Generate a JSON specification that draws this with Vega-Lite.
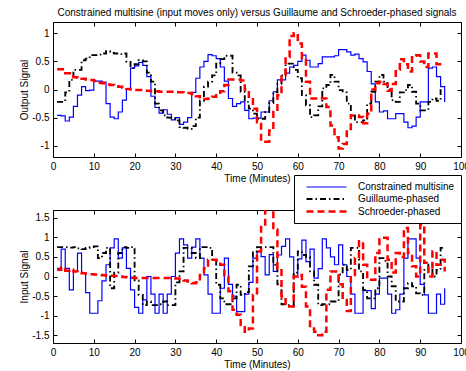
{
  "$schema": "https://vega.github.io/schema/vega-lite/v6.json",
  "padding": {"left": 19, "top": 7, "right": 0, "bottom": 0},
  "config": {
    "font": "Liberation Sans",
    "view": {"stroke": "black", "strokeWidth": 1},
    "concat": {"spacing": 18},
    "axis": {"domain": false, "grid": false, "tickSize": -4, "tickColor": "black", "labelPadding": 8, "labelFontSize": 10, "labelFont": "Liberation Sans", "labelColor": "black", "titleFontSize": 10, "titleFont": "Liberation Sans", "titleFontWeight": "normal", "titleColor": "black", "titlePadding": 2},
    "title": {"fontSize": 10, "fontWeight": "normal", "font": "Liberation Sans", "color": "black"},
    "legend": {"symbolSize": 100, "symbolStrokeWidth": 1.5, "labelFontSize": 10, "labelFont": "Liberation Sans", "labelColor": "black", "labelOffset": 45, "strokeColor": "black", "fillColor": "white", "padding": 6, "rowPadding": 1}
  },
  "datasets": {"sig": [
{"p":"a","s":"C","t":1,"v":-0.46},{"p":"a","s":"C","t":2,"v":-0.47},{"p":"a","s":"C","t":3,"v":-0.56},{"p":"a","s":"C","t":4,"v":-0.49},{"p":"a","s":"C","t":5,"v":-0.3},{"p":"a","s":"C","t":6,"v":-0.1},{"p":"a","s":"C","t":7,"v":0.05},{"p":"a","s":"C","t":8,"v":-0.02},{"p":"a","s":"C","t":9,"v":-0.01},{"p":"a","s":"C","t":10,"v":0.15},{"p":"a","s":"C","t":11,"v":0.15},{"p":"a","s":"C","t":12,"v":0.13},{"p":"a","s":"C","t":13,"v":-0.25},{"p":"a","s":"C","t":14,"v":-0.49},{"p":"a","s":"C","t":15,"v":-0.52},{"p":"a","s":"C","t":16,"v":-0.4},{"p":"a","s":"C","t":17,"v":-0.19},{"p":"a","s":"C","t":18,"v":0},{"p":"a","s":"C","t":19,"v":0.38},{"p":"a","s":"C","t":20,"v":0.42},{"p":"a","s":"C","t":21,"v":0.48},{"p":"a","s":"C","t":22,"v":0.43},{"p":"a","s":"C","t":23,"v":0.23},{"p":"a","s":"C","t":24,"v":-0.12},{"p":"a","s":"C","t":25,"v":-0.32},{"p":"a","s":"C","t":26,"v":-0.42},{"p":"a","s":"C","t":27,"v":-0.36},{"p":"a","s":"C","t":28,"v":-0.44},{"p":"a","s":"C","t":29,"v":-0.54},{"p":"a","s":"C","t":30,"v":-0.5},{"p":"a","s":"C","t":31,"v":-0.62},{"p":"a","s":"C","t":32,"v":-0.58},{"p":"a","s":"C","t":33,"v":-0.5},{"p":"a","s":"C","t":34,"v":-0.05},{"p":"a","s":"C","t":35,"v":0.2},{"p":"a","s":"C","t":36,"v":0.4},{"p":"a","s":"C","t":37,"v":0.5},{"p":"a","s":"C","t":38,"v":0.62},{"p":"a","s":"C","t":39,"v":0.6},{"p":"a","s":"C","t":40,"v":0.55},{"p":"a","s":"C","t":41,"v":0.4},{"p":"a","s":"C","t":42,"v":0.15},{"p":"a","s":"C","t":43,"v":-0.16},{"p":"a","s":"C","t":44,"v":-0.3},{"p":"a","s":"C","t":45,"v":-0.25},{"p":"a","s":"C","t":46,"v":-0.22},{"p":"a","s":"C","t":47,"v":-0.37},{"p":"a","s":"C","t":48,"v":-0.52},{"p":"a","s":"C","t":49,"v":-0.51},{"p":"a","s":"C","t":50,"v":-0.51},{"p":"a","s":"C","t":51,"v":-0.4},{"p":"a","s":"C","t":52,"v":-0.4},{"p":"a","s":"C","t":53,"v":-0.2},{"p":"a","s":"C","t":54,"v":-0.04},{"p":"a","s":"C","t":55,"v":0.17},{"p":"a","s":"C","t":56,"v":0.17},{"p":"a","s":"C","t":57,"v":0.29},{"p":"a","s":"C","t":58,"v":0.4},{"p":"a","s":"C","t":59,"v":0.43},{"p":"a","s":"C","t":60,"v":0.5},{"p":"a","s":"C","t":61,"v":0.61},{"p":"a","s":"C","t":62,"v":0.52},{"p":"a","s":"C","t":63,"v":0.4},{"p":"a","s":"C","t":64,"v":0.4},{"p":"a","s":"C","t":65,"v":0.46},{"p":"a","s":"C","t":66,"v":0.58},{"p":"a","s":"C","t":67,"v":0.58},{"p":"a","s":"C","t":68,"v":0.58},{"p":"a","s":"C","t":69,"v":0.6},{"p":"a","s":"C","t":70,"v":0.71},{"p":"a","s":"C","t":71,"v":0.71},{"p":"a","s":"C","t":72,"v":0.67},{"p":"a","s":"C","t":73,"v":0.61},{"p":"a","s":"C","t":74,"v":0.63},{"p":"a","s":"C","t":75,"v":0.55},{"p":"a","s":"C","t":76,"v":0.49},{"p":"a","s":"C","t":77,"v":0.32},{"p":"a","s":"C","t":78,"v":0.1},{"p":"a","s":"C","t":79,"v":-0.22},{"p":"a","s":"C","t":80,"v":-0.4},{"p":"a","s":"C","t":81,"v":-0.38},{"p":"a","s":"C","t":82,"v":-0.52},{"p":"a","s":"C","t":83,"v":-0.52},{"p":"a","s":"C","t":84,"v":-0.43},{"p":"a","s":"C","t":85,"v":-0.43},{"p":"a","s":"C","t":86,"v":-0.58},{"p":"a","s":"C","t":87,"v":-0.68},{"p":"a","s":"C","t":88,"v":-0.65},{"p":"a","s":"C","t":89,"v":-0.49},{"p":"a","s":"C","t":90,"v":-0.22},{"p":"a","s":"C","t":91,"v":-0.22},{"p":"a","s":"C","t":92,"v":0.38},{"p":"a","s":"C","t":93,"v":0.4},{"p":"a","s":"C","t":94,"v":0.23},{"p":"a","s":"C","t":95,"v":0.05},{"p":"a","s":"C","t":96,"v":-0.22},
{"p":"a","s":"G","t":1,"v":-0.22},{"p":"a","s":"G","t":2,"v":-0.22},{"p":"a","s":"G","t":3,"v":-0.05},{"p":"a","s":"G","t":4,"v":0.17},{"p":"a","s":"G","t":5,"v":0.35},{"p":"a","s":"G","t":6,"v":0.35},{"p":"a","s":"G","t":7,"v":0.52},{"p":"a","s":"G","t":8,"v":0.55},{"p":"a","s":"G","t":9,"v":0.61},{"p":"a","s":"G","t":10,"v":0.61},{"p":"a","s":"G","t":11,"v":0.62},{"p":"a","s":"G","t":12,"v":0.64},{"p":"a","s":"G","t":13,"v":0.68},{"p":"a","s":"G","t":14,"v":0.65},{"p":"a","s":"G","t":15,"v":0.64},{"p":"a","s":"G","t":16,"v":0.63},{"p":"a","s":"G","t":17,"v":0.64},{"p":"a","s":"G","t":18,"v":0.49},{"p":"a","s":"G","t":19,"v":0.38},{"p":"a","s":"G","t":20,"v":0.45},{"p":"a","s":"G","t":21,"v":0.52},{"p":"a","s":"G","t":22,"v":0.5},{"p":"a","s":"G","t":23,"v":0.3},{"p":"a","s":"G","t":24,"v":0.14},{"p":"a","s":"G","t":25,"v":-0.25},{"p":"a","s":"G","t":26,"v":-0.37},{"p":"a","s":"G","t":27,"v":-0.46},{"p":"a","s":"G","t":28,"v":-0.5},{"p":"a","s":"G","t":29,"v":-0.52},{"p":"a","s":"G","t":30,"v":-0.55},{"p":"a","s":"G","t":31,"v":-0.67},{"p":"a","s":"G","t":32,"v":-0.68},{"p":"a","s":"G","t":33,"v":-0.7},{"p":"a","s":"G","t":34,"v":-0.65},{"p":"a","s":"G","t":35,"v":-0.5},{"p":"a","s":"G","t":36,"v":-0.2},{"p":"a","s":"G","t":37,"v":0.05},{"p":"a","s":"G","t":38,"v":0.14},{"p":"a","s":"G","t":39,"v":0.25},{"p":"a","s":"G","t":40,"v":0.46},{"p":"a","s":"G","t":41,"v":0.54},{"p":"a","s":"G","t":42,"v":0.6},{"p":"a","s":"G","t":43,"v":0.6},{"p":"a","s":"G","t":44,"v":0.3},{"p":"a","s":"G","t":45,"v":0.25},{"p":"a","s":"G","t":46,"v":-0.04},{"p":"a","s":"G","t":47,"v":-0.22},{"p":"a","s":"G","t":48,"v":-0.34},{"p":"a","s":"G","t":49,"v":-0.43},{"p":"a","s":"G","t":50,"v":-0.52},{"p":"a","s":"G","t":51,"v":-0.52},{"p":"a","s":"G","t":52,"v":-0.4},{"p":"a","s":"G","t":53,"v":-0.24},{"p":"a","s":"G","t":54,"v":-0.05},{"p":"a","s":"G","t":55,"v":0.1},{"p":"a","s":"G","t":56,"v":0.25},{"p":"a","s":"G","t":57,"v":0.46},{"p":"a","s":"G","t":58,"v":0.46},{"p":"a","s":"G","t":59,"v":0.35},{"p":"a","s":"G","t":60,"v":0.2},{"p":"a","s":"G","t":61,"v":-0.1},{"p":"a","s":"G","t":62,"v":-0.28},{"p":"a","s":"G","t":63,"v":-0.49},{"p":"a","s":"G","t":64,"v":-0.46},{"p":"a","s":"G","t":65,"v":-0.3},{"p":"a","s":"G","t":66,"v":0.02},{"p":"a","s":"G","t":67,"v":0.08},{"p":"a","s":"G","t":68,"v":0.26},{"p":"a","s":"G","t":69,"v":0.14},{"p":"a","s":"G","t":70,"v":-0.01},{"p":"a","s":"G","t":71,"v":-0.05},{"p":"a","s":"G","t":72,"v":-0.25},{"p":"a","s":"G","t":73,"v":-0.46},{"p":"a","s":"G","t":74,"v":-0.58},{"p":"a","s":"G","t":75,"v":-0.58},{"p":"a","s":"G","t":76,"v":-0.55},{"p":"a","s":"G","t":77,"v":-0.25},{"p":"a","s":"G","t":78,"v":-0.04},{"p":"a","s":"G","t":79,"v":0.14},{"p":"a","s":"G","t":80,"v":0.26},{"p":"a","s":"G","t":81,"v":0.14},{"p":"a","s":"G","t":82,"v":0},{"p":"a","s":"G","t":83,"v":-0.19},{"p":"a","s":"G","t":84,"v":-0.22},{"p":"a","s":"G","t":85,"v":-0.05},{"p":"a","s":"G","t":86,"v":-0.01},{"p":"a","s":"G","t":87,"v":0.08},{"p":"a","s":"G","t":88,"v":-0.04},{"p":"a","s":"G","t":89,"v":-0.25},{"p":"a","s":"G","t":90,"v":-0.37},{"p":"a","s":"G","t":91,"v":-0.37},{"p":"a","s":"G","t":92,"v":-0.22},{"p":"a","s":"G","t":93,"v":-0.16},{"p":"a","s":"G","t":94,"v":-0.2},{"p":"a","s":"G","t":95,"v":-0.01},{"p":"a","s":"G","t":96,"v":-0.01},
{"p":"a","s":"S","t":1,"v":0.36},{"p":"a","s":"S","t":2,"v":0.36},{"p":"a","s":"S","t":3,"v":0.29},{"p":"a","s":"S","t":4,"v":0.29},{"p":"a","s":"S","t":5,"v":0.22},{"p":"a","s":"S","t":6,"v":0.21},{"p":"a","s":"S","t":7,"v":0.19},{"p":"a","s":"S","t":8,"v":0.18},{"p":"a","s":"S","t":9,"v":0.17},{"p":"a","s":"S","t":10,"v":0.15},{"p":"a","s":"S","t":11,"v":0.12},{"p":"a","s":"S","t":12,"v":0.11},{"p":"a","s":"S","t":13,"v":0.09},{"p":"a","s":"S","t":14,"v":0.08},{"p":"a","s":"S","t":15,"v":0.06},{"p":"a","s":"S","t":16,"v":0.05},{"p":"a","s":"S","t":17,"v":0.03},{"p":"a","s":"S","t":18,"v":0.01},{"p":"a","s":"S","t":19,"v":0},{"p":"a","s":"S","t":20,"v":-0.01},{"p":"a","s":"S","t":21,"v":-0.01},{"p":"a","s":"S","t":22,"v":-0.02},{"p":"a","s":"S","t":23,"v":-0.02},{"p":"a","s":"S","t":24,"v":-0.03},{"p":"a","s":"S","t":25,"v":-0.03},{"p":"a","s":"S","t":26,"v":-0.04},{"p":"a","s":"S","t":27,"v":-0.04},{"p":"a","s":"S","t":28,"v":-0.04},{"p":"a","s":"S","t":29,"v":-0.04},{"p":"a","s":"S","t":30,"v":-0.05},{"p":"a","s":"S","t":31,"v":-0.05},{"p":"a","s":"S","t":32,"v":-0.06},{"p":"a","s":"S","t":33,"v":-0.06},{"p":"a","s":"S","t":34,"v":-0.08},{"p":"a","s":"S","t":35,"v":-0.12},{"p":"a","s":"S","t":36,"v":-0.17},{"p":"a","s":"S","t":37,"v":-0.17},{"p":"a","s":"S","t":38,"v":-0.16},{"p":"a","s":"S","t":39,"v":-0.13},{"p":"a","s":"S","t":40,"v":-0.1},{"p":"a","s":"S","t":41,"v":-0.03},{"p":"a","s":"S","t":42,"v":0.08},{"p":"a","s":"S","t":43,"v":0.18},{"p":"a","s":"S","t":44,"v":0.18},{"p":"a","s":"S","t":45,"v":0.18},{"p":"a","s":"S","t":46,"v":0.16},{"p":"a","s":"S","t":47,"v":0},{"p":"a","s":"S","t":48,"v":-0.13},{"p":"a","s":"S","t":49,"v":-0.34},{"p":"a","s":"S","t":50,"v":-0.58},{"p":"a","s":"S","t":51,"v":-0.93},{"p":"a","s":"S","t":52,"v":-0.93},{"p":"a","s":"S","t":53,"v":-0.73},{"p":"a","s":"S","t":54,"v":-0.4},{"p":"a","s":"S","t":55,"v":-0.1},{"p":"a","s":"S","t":56,"v":0.26},{"p":"a","s":"S","t":57,"v":0.58},{"p":"a","s":"S","t":58,"v":0.95},{"p":"a","s":"S","t":59,"v":1},{"p":"a","s":"S","t":60,"v":0.82},{"p":"a","s":"S","t":61,"v":0.55},{"p":"a","s":"S","t":62,"v":0.14},{"p":"a","s":"S","t":63,"v":-0.16},{"p":"a","s":"S","t":64,"v":-0.16},{"p":"a","s":"S","t":65,"v":-0.15},{"p":"a","s":"S","t":66,"v":-0.16},{"p":"a","s":"S","t":67,"v":-0.31},{"p":"a","s":"S","t":68,"v":-0.64},{"p":"a","s":"S","t":69,"v":-0.85},{"p":"a","s":"S","t":70,"v":-1.05},{"p":"a","s":"S","t":71,"v":-0.97},{"p":"a","s":"S","t":72,"v":-0.7},{"p":"a","s":"S","t":73,"v":-0.46},{"p":"a","s":"S","t":74,"v":-0.46},{"p":"a","s":"S","t":75,"v":-0.49},{"p":"a","s":"S","t":76,"v":-0.6},{"p":"a","s":"S","t":77,"v":-0.43},{"p":"a","s":"S","t":78,"v":0},{"p":"a","s":"S","t":79,"v":0.11},{"p":"a","s":"S","t":80,"v":0.14},{"p":"a","s":"S","t":81,"v":0.1},{"p":"a","s":"S","t":82,"v":-0.02},{"p":"a","s":"S","t":83,"v":0.1},{"p":"a","s":"S","t":84,"v":0.35},{"p":"a","s":"S","t":85,"v":0.54},{"p":"a","s":"S","t":86,"v":0.45},{"p":"a","s":"S","t":87,"v":0.32},{"p":"a","s":"S","t":88,"v":0.6},{"p":"a","s":"S","t":89,"v":0.61},{"p":"a","s":"S","t":90,"v":0.5},{"p":"a","s":"S","t":91,"v":0.4},{"p":"a","s":"S","t":92,"v":0.64},{"p":"a","s":"S","t":93,"v":0.64},{"p":"a","s":"S","t":94,"v":0.45},{"p":"a","s":"S","t":95,"v":0.45},{"p":"a","s":"S","t":96,"v":0.45},
{"p":"b","s":"C","t":1,"v":0.21},{"p":"b","s":"C","t":2,"v":0.7},{"p":"b","s":"C","t":3,"v":0.21},{"p":"b","s":"C","t":4,"v":-0.34},{"p":"b","s":"C","t":5,"v":0.13},{"p":"b","s":"C","t":6,"v":0.6},{"p":"b","s":"C","t":7,"v":0.1},{"p":"b","s":"C","t":8,"v":-0.41},{"p":"b","s":"C","t":9,"v":-0.94},{"p":"b","s":"C","t":10,"v":-0.94},{"p":"b","s":"C","t":11,"v":-0.62},{"p":"b","s":"C","t":12,"v":-0.11},{"p":"b","s":"C","t":13,"v":0.3},{"p":"b","s":"C","t":14,"v":0.73},{"p":"b","s":"C","t":15,"v":0.96},{"p":"b","s":"C","t":16,"v":0.47},{"p":"b","s":"C","t":17,"v":0.73},{"p":"b","s":"C","t":18,"v":0.21},{"p":"b","s":"C","t":19,"v":-0.34},{"p":"b","s":"C","t":20,"v":-0.79},{"p":"b","s":"C","t":21,"v":-0.94},{"p":"b","s":"C","t":22,"v":-0.6},{"p":"b","s":"C","t":23,"v":0},{"p":"b","s":"C","t":24,"v":-0.45},{"p":"b","s":"C","t":25,"v":-0.94},{"p":"b","s":"C","t":26,"v":-0.45},{"p":"b","s":"C","t":27,"v":-0.94},{"p":"b","s":"C","t":28,"v":-0.45},{"p":"b","s":"C","t":29,"v":0},{"p":"b","s":"C","t":30,"v":0.6},{"p":"b","s":"C","t":31,"v":0.96},{"p":"b","s":"C","t":32,"v":0.81},{"p":"b","s":"C","t":33,"v":0.47},{"p":"b","s":"C","t":34,"v":0.75},{"p":"b","s":"C","t":35,"v":0.96},{"p":"b","s":"C","t":36,"v":0.47},{"p":"b","s":"C","t":37,"v":0.04},{"p":"b","s":"C","t":38,"v":-0.45},{"p":"b","s":"C","t":39,"v":-0.94},{"p":"b","s":"C","t":40,"v":-0.94},{"p":"b","s":"C","t":41,"v":-0.3},{"p":"b","s":"C","t":42,"v":0.47},{"p":"b","s":"C","t":43,"v":-0.2},{"p":"b","s":"C","t":44,"v":-0.5},{"p":"b","s":"C","t":45,"v":-0.9},{"p":"b","s":"C","t":46,"v":-0.9},{"p":"b","s":"C","t":47,"v":-0.45},{"p":"b","s":"C","t":48,"v":-0.15},{"p":"b","s":"C","t":49,"v":0.47},{"p":"b","s":"C","t":50,"v":0.64},{"p":"b","s":"C","t":51,"v":0.51},{"p":"b","s":"C","t":52,"v":0.04},{"p":"b","s":"C","t":53,"v":0.56},{"p":"b","s":"C","t":54,"v":0.13},{"p":"b","s":"C","t":55,"v":0.55},{"p":"b","s":"C","t":56,"v":0.77},{"p":"b","s":"C","t":57,"v":0.96},{"p":"b","s":"C","t":58,"v":0.5},{"p":"b","s":"C","t":59,"v":0},{"p":"b","s":"C","t":60,"v":0.45},{"p":"b","s":"C","t":61,"v":0.93},{"p":"b","s":"C","t":62,"v":0.38},{"p":"b","s":"C","t":63,"v":0.7},{"p":"b","s":"C","t":64,"v":-0.04},{"p":"b","s":"C","t":65,"v":0.2},{"p":"b","s":"C","t":66,"v":0.96},{"p":"b","s":"C","t":67,"v":0.73},{"p":"b","s":"C","t":68,"v":0.5},{"p":"b","s":"C","t":69,"v":0.3},{"p":"b","s":"C","t":70,"v":0.81},{"p":"b","s":"C","t":71,"v":0.3},{"p":"b","s":"C","t":72,"v":0},{"p":"b","s":"C","t":73,"v":-0.45},{"p":"b","s":"C","t":74,"v":-0.94},{"p":"b","s":"C","t":75,"v":-0.94},{"p":"b","s":"C","t":76,"v":-0.36},{"p":"b","s":"C","t":77,"v":-0.36},{"p":"b","s":"C","t":78,"v":-0.82},{"p":"b","s":"C","t":79,"v":-0.45},{"p":"b","s":"C","t":80,"v":-0.04},{"p":"b","s":"C","t":81,"v":-0.04},{"p":"b","s":"C","t":82,"v":-0.45},{"p":"b","s":"C","t":83,"v":-0.94},{"p":"b","s":"C","t":84,"v":-0.85},{"p":"b","s":"C","t":85,"v":-0.45},{"p":"b","s":"C","t":86,"v":0.47},{"p":"b","s":"C","t":87,"v":0.96},{"p":"b","s":"C","t":88,"v":0.96},{"p":"b","s":"C","t":89,"v":0.47},{"p":"b","s":"C","t":90,"v":-0.2},{"p":"b","s":"C","t":91,"v":-0.47},{"p":"b","s":"C","t":92,"v":-0.94},{"p":"b","s":"C","t":93,"v":-0.94},{"p":"b","s":"C","t":94,"v":-0.45},{"p":"b","s":"C","t":95,"v":-0.71},{"p":"b","s":"C","t":96,"v":-0.3},
{"p":"b","s":"G","t":1,"v":0.75},{"p":"b","s":"G","t":2,"v":0.75},{"p":"b","s":"G","t":3,"v":0.75},{"p":"b","s":"G","t":4,"v":0.74},{"p":"b","s":"G","t":5,"v":0.75},{"p":"b","s":"G","t":6,"v":0.72},{"p":"b","s":"G","t":7,"v":0.7},{"p":"b","s":"G","t":8,"v":0.73},{"p":"b","s":"G","t":9,"v":0.75},{"p":"b","s":"G","t":10,"v":0.77},{"p":"b","s":"G","t":11,"v":0.47},{"p":"b","s":"G","t":12,"v":0.6},{"p":"b","s":"G","t":13,"v":0.73},{"p":"b","s":"G","t":14,"v":-0.3},{"p":"b","s":"G","t":15,"v":0.1},{"p":"b","s":"G","t":16,"v":0.6},{"p":"b","s":"G","t":17,"v":0.75},{"p":"b","s":"G","t":18,"v":0.73},{"p":"b","s":"G","t":19,"v":0.75},{"p":"b","s":"G","t":20,"v":-0.1},{"p":"b","s":"G","t":21,"v":-0.47},{"p":"b","s":"G","t":22,"v":-0.73},{"p":"b","s":"G","t":23,"v":-0.64},{"p":"b","s":"G","t":24,"v":-0.73},{"p":"b","s":"G","t":25,"v":-0.73},{"p":"b","s":"G","t":26,"v":-0.71},{"p":"b","s":"G","t":27,"v":-0.64},{"p":"b","s":"G","t":28,"v":-0.73},{"p":"b","s":"G","t":29,"v":-0.73},{"p":"b","s":"G","t":30,"v":-0.15},{"p":"b","s":"G","t":31,"v":0.13},{"p":"b","s":"G","t":32,"v":0.73},{"p":"b","s":"G","t":33,"v":0.73},{"p":"b","s":"G","t":34,"v":0.6},{"p":"b","s":"G","t":35,"v":0.47},{"p":"b","s":"G","t":36,"v":0.75},{"p":"b","s":"G","t":37,"v":0.75},{"p":"b","s":"G","t":38,"v":0.73},{"p":"b","s":"G","t":39,"v":0.43},{"p":"b","s":"G","t":40,"v":-0.21},{"p":"b","s":"G","t":41,"v":-0.56},{"p":"b","s":"G","t":42,"v":-0.71},{"p":"b","s":"G","t":43,"v":-0.71},{"p":"b","s":"G","t":44,"v":-0.56},{"p":"b","s":"G","t":45,"v":-0.21},{"p":"b","s":"G","t":46,"v":-0.47},{"p":"b","s":"G","t":47,"v":-0.4},{"p":"b","s":"G","t":48,"v":0.26},{"p":"b","s":"G","t":49,"v":0.64},{"p":"b","s":"G","t":50,"v":0.75},{"p":"b","s":"G","t":51,"v":0.75},{"p":"b","s":"G","t":52,"v":0.75},{"p":"b","s":"G","t":53,"v":0.75},{"p":"b","s":"G","t":54,"v":0.3},{"p":"b","s":"G","t":55,"v":-0.2},{"p":"b","s":"G","t":56,"v":-0.71},{"p":"b","s":"G","t":57,"v":-0.73},{"p":"b","s":"G","t":58,"v":-0.73},{"p":"b","s":"G","t":59,"v":0.1},{"p":"b","s":"G","t":60,"v":0.64},{"p":"b","s":"G","t":61,"v":0.55},{"p":"b","s":"G","t":62,"v":0.5},{"p":"b","s":"G","t":63,"v":0.13},{"p":"b","s":"G","t":64,"v":-0.21},{"p":"b","s":"G","t":65,"v":-0.73},{"p":"b","s":"G","t":66,"v":-0.71},{"p":"b","s":"G","t":67,"v":-0.71},{"p":"b","s":"G","t":68,"v":-0.64},{"p":"b","s":"G","t":69,"v":-0.64},{"p":"b","s":"G","t":70,"v":0.05},{"p":"b","s":"G","t":71,"v":0.3},{"p":"b","s":"G","t":72,"v":0.17},{"p":"b","s":"G","t":73,"v":0.73},{"p":"b","s":"G","t":74,"v":0.73},{"p":"b","s":"G","t":75,"v":0.13},{"p":"b","s":"G","t":76,"v":-0.34},{"p":"b","s":"G","t":77,"v":-0.56},{"p":"b","s":"G","t":78,"v":-0.56},{"p":"b","s":"G","t":79,"v":-0.3},{"p":"b","s":"G","t":80,"v":0.47},{"p":"b","s":"G","t":81,"v":0.4},{"p":"b","s":"G","t":82,"v":0},{"p":"b","s":"G","t":83,"v":-0.25},{"p":"b","s":"G","t":84,"v":-0.64},{"p":"b","s":"G","t":85,"v":-0.64},{"p":"b","s":"G","t":86,"v":-0.3},{"p":"b","s":"G","t":87,"v":-0.17},{"p":"b","s":"G","t":88,"v":-0.25},{"p":"b","s":"G","t":89,"v":-0.43},{"p":"b","s":"G","t":90,"v":-0.47},{"p":"b","s":"G","t":91,"v":0.17},{"p":"b","s":"G","t":92,"v":0.3},{"p":"b","s":"G","t":93,"v":0},{"p":"b","s":"G","t":94,"v":0.17},{"p":"b","s":"G","t":95,"v":0.73},{"p":"b","s":"G","t":96,"v":0.73},
{"p":"b","s":"S","t":1,"v":0.17},{"p":"b","s":"S","t":2,"v":0.23},{"p":"b","s":"S","t":3,"v":0.15},{"p":"b","s":"S","t":4,"v":0.17},{"p":"b","s":"S","t":5,"v":0.13},{"p":"b","s":"S","t":6,"v":0.1},{"p":"b","s":"S","t":7,"v":0.08},{"p":"b","s":"S","t":8,"v":0.07},{"p":"b","s":"S","t":9,"v":0.06},{"p":"b","s":"S","t":10,"v":0.05},{"p":"b","s":"S","t":11,"v":0.04},{"p":"b","s":"S","t":12,"v":0.03},{"p":"b","s":"S","t":13,"v":0.02},{"p":"b","s":"S","t":14,"v":0.02},{"p":"b","s":"S","t":15,"v":0.01},{"p":"b","s":"S","t":16,"v":0},{"p":"b","s":"S","t":17,"v":-0.01},{"p":"b","s":"S","t":18,"v":-0.02},{"p":"b","s":"S","t":19,"v":-0.03},{"p":"b","s":"S","t":20,"v":-0.04},{"p":"b","s":"S","t":21,"v":-0.04},{"p":"b","s":"S","t":22,"v":-0.04},{"p":"b","s":"S","t":23,"v":-0.04},{"p":"b","s":"S","t":24,"v":-0.04},{"p":"b","s":"S","t":25,"v":-0.04},{"p":"b","s":"S","t":26,"v":-0.04},{"p":"b","s":"S","t":27,"v":-0.04},{"p":"b","s":"S","t":28,"v":-0.04},{"p":"b","s":"S","t":29,"v":-0.04},{"p":"b","s":"S","t":30,"v":-0.05},{"p":"b","s":"S","t":31,"v":-0.06},{"p":"b","s":"S","t":32,"v":-0.1},{"p":"b","s":"S","t":33,"v":-0.13},{"p":"b","s":"S","t":34,"v":-0.17},{"p":"b","s":"S","t":35,"v":-0.15},{"p":"b","s":"S","t":36,"v":0.04},{"p":"b","s":"S","t":37,"v":0.21},{"p":"b","s":"S","t":38,"v":0.43},{"p":"b","s":"S","t":39,"v":0.43},{"p":"b","s":"S","t":40,"v":0.4},{"p":"b","s":"S","t":41,"v":0.3},{"p":"b","s":"S","t":42,"v":0},{"p":"b","s":"S","t":43,"v":-0.38},{"p":"b","s":"S","t":44,"v":-0.85},{"p":"b","s":"S","t":45,"v":-0.98},{"p":"b","s":"S","t":46,"v":-1.24},{"p":"b","s":"S","t":47,"v":-1.41},{"p":"b","s":"S","t":48,"v":-1.33},{"p":"b","s":"S","t":49,"v":-0.47},{"p":"b","s":"S","t":50,"v":0.64},{"p":"b","s":"S","t":51,"v":1.33},{"p":"b","s":"S","t":52,"v":1.8},{"p":"b","s":"S","t":53,"v":1.8},{"p":"b","s":"S","t":54,"v":1.2},{"p":"b","s":"S","t":55,"v":0.2},{"p":"b","s":"S","t":56,"v":-0.51},{"p":"b","s":"S","t":57,"v":-0.77},{"p":"b","s":"S","t":58,"v":-0.77},{"p":"b","s":"S","t":59,"v":0},{"p":"b","s":"S","t":60,"v":0.04},{"p":"b","s":"S","t":61,"v":-0.26},{"p":"b","s":"S","t":62,"v":-0.77},{"p":"b","s":"S","t":63,"v":-1.33},{"p":"b","s":"S","t":64,"v":-1.41},{"p":"b","s":"S","t":65,"v":-1.5},{"p":"b","s":"S","t":66,"v":-1.41},{"p":"b","s":"S","t":67,"v":-0.34},{"p":"b","s":"S","t":68,"v":0.13},{"p":"b","s":"S","t":69,"v":0.13},{"p":"b","s":"S","t":70,"v":-0.2},{"p":"b","s":"S","t":71,"v":-0.6},{"p":"b","s":"S","t":72,"v":-0.88},{"p":"b","s":"S","t":73,"v":0.04},{"p":"b","s":"S","t":74,"v":0.47},{"p":"b","s":"S","t":75,"v":0.9},{"p":"b","s":"S","t":76,"v":0.3},{"p":"b","s":"S","t":77,"v":-0.08},{"p":"b","s":"S","t":78,"v":-0.08},{"p":"b","s":"S","t":79,"v":0.6},{"p":"b","s":"S","t":80,"v":0.99},{"p":"b","s":"S","t":81,"v":0.99},{"p":"b","s":"S","t":82,"v":0.43},{"p":"b","s":"S","t":83,"v":0.1},{"p":"b","s":"S","t":84,"v":0.6},{"p":"b","s":"S","t":85,"v":0.5},{"p":"b","s":"S","t":86,"v":1.24},{"p":"b","s":"S","t":87,"v":0.6},{"p":"b","s":"S","t":88,"v":0.26},{"p":"b","s":"S","t":89,"v":0},{"p":"b","s":"S","t":90,"v":1.33},{"p":"b","s":"S","t":91,"v":0.35},{"p":"b","s":"S","t":92,"v":0},{"p":"b","s":"S","t":93,"v":0.64},{"p":"b","s":"S","t":94,"v":0.3},{"p":"b","s":"S","t":95,"v":0.43},{"p":"b","s":"S","t":96,"v":0.13}
  ]},
  "vconcat": [
    {
      "title": {"text": "Constrained multisine (input moves only) versus Guillaume and Schroeder-phased signals", "frame": "group", "offset": 4},
      "width": 408,
      "height": 135,
      "data": {"name": "sig"},
      "transform": [{"filter": "datum.p == 'a'"}],
      "layer": [
        {
          "mark": {"type": "line", "interpolate": "step-after", "clip": true},
          "encoding": {
            "x": {"field": "t", "type": "quantitative", "scale": {"domain": [0, 100], "nice": false, "zero": false}, "axis": {"values": [0,10,20,30,40,50,60,70,80,90,100], "title": "Time (Minutes)", "labelFlush": false}},
            "y": {"field": "v", "type": "quantitative", "scale": {"domain": [-1.2, 1.2], "nice": false, "zero": false}, "axis": {"values": [-1,-0.5,0,0.5,1], "title": "Output Signal", "labelExpr": "replace(format(datum.value, '~g'), '\u2212', '-')"}},
            "color": {"field": "s", "type": "nominal", "scale": {"domain": ["C","G","S"], "range": ["#0000ff","#000000","#ff0000"]}, "legend": {"title": null, "orient": "none", "legendX": 241, "legendY": 153, "symbolType": "M0,0H8", "labelExpr": "datum.label == 'C' ? 'Constrained multisine' : datum.label == 'G' ? 'Guillaume-phased' : 'Schroeder-phased'"}},
            "strokeDash": {"field": "s", "type": "nominal", "scale": {"domain": ["C","G","S"], "range": [[1,0],[6,3,1.5,3],[7,4]]}, "legend": {"title": null, "orient": "none", "legendX": 241, "legendY": 153, "symbolType": "M0,0H8", "labelExpr": "datum.label == 'C' ? 'Constrained multisine' : datum.label == 'G' ? 'Guillaume-phased' : 'Schroeder-phased'"}},
            "strokeWidth": {"field": "s", "type": "ordinal", "scale": {"domain": ["C","G","S"], "range": [1.2, 2.5, 2]}, "legend": null}
          }
        },
        {
          "mark": {"type": "point", "opacity": 0},
          "encoding": {
            "x": {"field": "t", "type": "quantitative", "axis": {"orient": "top", "values": [0,10,20,30,40,50,60,70,80,90,100], "labels": false, "title": null}},
            "y": {"field": "v", "type": "quantitative", "axis": {"orient": "right", "values": [-1,-0.5,0,0.5,1], "labels": false, "title": null}}
          }
        }
      ],
      "resolve": {"axis": {"x": "independent", "y": "independent"}}
    },
    {
      "width": 408,
      "height": 133,
      "data": {"name": "sig"},
      "transform": [{"filter": "datum.p == 'b'"}],
      "layer": [
        {
          "mark": {"type": "line", "interpolate": "step-after", "clip": true},
          "encoding": {
            "x": {"field": "t", "type": "quantitative", "scale": {"domain": [0, 100], "nice": false, "zero": false}, "axis": {"values": [0,10,20,30,40,50,60,70,80,90,100], "title": "Time (Minutes)", "labelFlush": false}},
            "y": {"field": "v", "type": "quantitative", "scale": {"domain": [-1.7, 1.7], "nice": false, "zero": false}, "axis": {"values": [-1.5,-1,-0.5,0,0.5,1,1.5], "title": "Input Signal", "labelExpr": "replace(format(datum.value, '~g'), '\u2212', '-')"}},
            "color": {"field": "s", "type": "nominal", "scale": {"domain": ["C","G","S"], "range": ["#0000ff","#000000","#ff0000"]}, "legend": {"title": null, "orient": "none", "legendX": 241, "legendY": 153, "symbolType": "M0,0H8", "labelExpr": "datum.label == 'C' ? 'Constrained multisine' : datum.label == 'G' ? 'Guillaume-phased' : 'Schroeder-phased'"}},
            "strokeDash": {"field": "s", "type": "nominal", "scale": {"domain": ["C","G","S"], "range": [[1,0],[6,3,1.5,3],[7,4]]}, "legend": {"title": null, "orient": "none", "legendX": 241, "legendY": 153, "symbolType": "M0,0H8", "labelExpr": "datum.label == 'C' ? 'Constrained multisine' : datum.label == 'G' ? 'Guillaume-phased' : 'Schroeder-phased'"}},
            "strokeWidth": {"field": "s", "type": "ordinal", "scale": {"domain": ["C","G","S"], "range": [1.2, 2.5, 2]}, "legend": null}
          }
        },
        {
          "mark": {"type": "point", "opacity": 0},
          "encoding": {
            "x": {"field": "t", "type": "quantitative", "axis": {"orient": "top", "values": [0,10,20,30,40,50,60,70,80,90,100], "labels": false, "title": null}},
            "y": {"field": "v", "type": "quantitative", "axis": {"orient": "right", "values": [-1.5,-1,-0.5,0,0.5,1,1.5], "labels": false, "title": null}}
          }
        }
      ],
      "resolve": {"axis": {"x": "independent", "y": "independent"}}
    }
  ]
}
